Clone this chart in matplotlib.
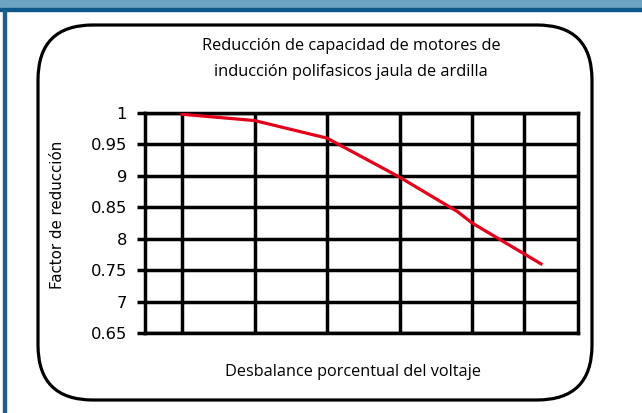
import matplotlib.pyplot as plt
import matplotlib.patches as patches

# datos
desbalance = [0, 1, 2, 3, 3.8, 4, 4.95]
factor = [0.998, 0.988, 0.960, 0.898, 0.843, 0.825, 0.760]

y_ticks = [1, 0.95, 0.90, 0.85, 0.80, 0.75, 0.70, 0.65]
y_labels = ['1', '0.95', '9', '0.85', '8', '0.75', '7', '0.65']
x_grid = [0, 1, 2, 3, 4, 4.72]

titulo = 'Reducción de capacidad de motores de\ninducción polifasicos jaula de ardilla'
xlabel = 'Desbalance porcentual del voltaje'
ylabel = 'Factor de reducción'

W, H = 642, 413
fig = plt.figure(figsize=(W / 100, H / 100), dpi=100)

# banda superior y borde izquierdo
fig.patches.append(patches.Rectangle((0, 405), W, 8, transform=None,
                                     color='#6da3c3', zorder=0))
fig.patches.append(patches.Rectangle((0, 402), W, 3, transform=None,
                                     color='#0e5889', zorder=0))
fig.patches.append(patches.Rectangle((3, 0), 3, 403, transform=None,
                                     color='#1b5f8e', zorder=0))

# caja redondeada
fig.patches.append(patches.FancyBboxPatch((38, 13), 554, 375, transform=None,
                                          boxstyle='round,pad=0,rounding_size=55',
                                          facecolor='none', edgecolor='black',
                                          linewidth=2.3, zorder=1))

ax = fig.add_axes([145 / W, (H - 333) / H, (578 - 145) / W, (333 - 113) / H])
ax.plot(desbalance, factor, color='#e3001b', linewidth=2.3, zorder=3)

ax.set_xlim(-0.51, 5.46)
ax.set_ylim(0.65, 1.0)
ax.set_xticks(x_grid)
ax.set_xticklabels([])
ax.tick_params(axis='x', length=0)
ax.set_yticks(y_ticks)
ax.set_yticklabels(y_labels, fontsize=11.8)
ax.tick_params(axis='y', length=6, width=2.5, pad=7)
ax.grid(True, color='black', linewidth=2.5)
for s in ax.spines.values():
    s.set_linewidth(2.5)
ax.set_axisbelow(True)

fig.text(351 / W, 1 - 59 / H, titulo, ha='center', va='center',
         fontsize=11.8, family='Open Sans', linespacing=1.75)
fig.text(353 / W, 1 - 372 / H, xlabel, ha='center', va='center',
         fontsize=11.7, family='Open Sans')
fig.text(58 / W, 1 - 215 / H, ylabel, ha='center', va='center',
         rotation=90, fontsize=10.8)

fig.savefig('out.png', dpi=100)
